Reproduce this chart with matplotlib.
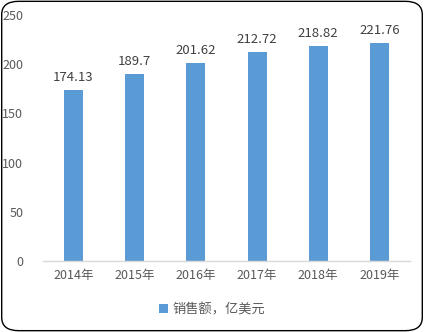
import matplotlib
matplotlib.use("Agg")
import matplotlib.pyplot as plt
from matplotlib.patches import FancyBboxPatch, Patch

plt.rcParams['font.family'] = ['Noto Sans CJK SC', 'DejaVu Sans']

years = ["2014年", "2015年", "2016年", "2017年", "2018年", "2019年"]
sales = [174.13, 189.7, 201.62, 212.72, 218.82, 221.76]
labels = ["174.13", "189.7", "201.62", "212.72", "218.82", "221.76"]
series_name = "销售额，亿美元"

bar_color = "#5B9BD5"
text_color = "#595959"

fig = plt.figure(figsize=(4.24, 3.32), dpi=100)
border = FancyBboxPatch((0.004, 0.004), 0.992, 0.992,
                        boxstyle="round,pad=0,rounding_size=0.04",
                        transform=fig.transFigure, fill=False,
                        edgecolor="black", linewidth=1.0)
fig.patches.append(border)

ax = fig.add_axes([0.101, 0.214, 0.866, 0.741])
x = list(range(len(years)))
ax.bar(x, sales, width=0.31, color=bar_color)
for xi, v, lab in zip(x, sales, labels):
    ax.text(xi, v + 6, lab, ha="center", va="bottom", fontsize=9.5, color="#404040")

ax.set_xlim(-0.5, len(years) - 0.5)
ax.set_ylim(0, 250)
ax.set_yticks([0, 50, 100, 150, 200, 250])
ax.set_xticks(x)
ax.set_xticklabels(years)
ax.tick_params(axis="both", length=0, labelsize=9, colors=text_color)
ax.tick_params(axis="x", pad=6)
ax.tick_params(axis="y", pad=14)
for s in ["top", "right", "left"]:
    ax.spines[s].set_visible(False)
ax.spines["bottom"].set_color("#D9D9D9")
ax.spines["bottom"].set_linewidth(1.0)

handle = Patch(facecolor=bar_color, edgecolor="none")
fig.legend([handle], [series_name], loc="center", bbox_to_anchor=(0.5, 0.068),
           frameon=False, fontsize=9.5, handlelength=0.7, handleheight=0.7,
           handletextpad=0.3, labelcolor=text_color)

fig.savefig("out.png", dpi=100)
